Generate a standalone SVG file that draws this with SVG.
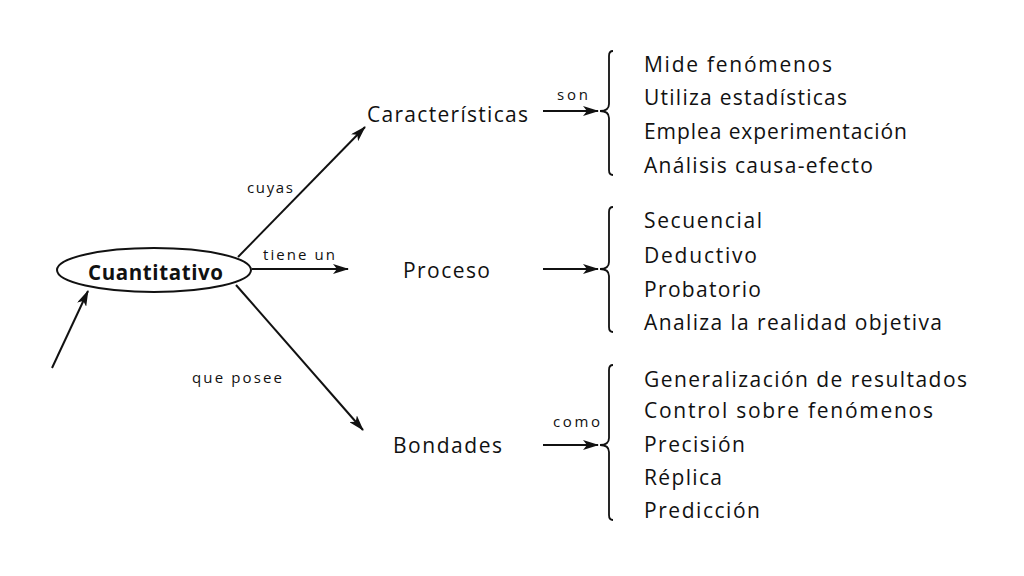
<svg xmlns="http://www.w3.org/2000/svg" width="1024" height="576" viewBox="0 0 1024 576">
<style>
text{font-family:"Open Sans","Liberation Sans",sans-serif;fill:#111;font-weight:500}
.n{font-size:21px}
.i{font-size:21px}
.l{font-size:15px}
.c{font-size:20.5px;font-weight:700}
.ln{stroke:#111;stroke-width:2;fill:none}
.br{stroke:#111;stroke-width:1.8;fill:none}
</style>
<defs>
<marker id="ah" markerWidth="16" markerHeight="10" refX="15" refY="5" orient="auto" markerUnits="userSpaceOnUse">
<path d="M0,0 L16,5 L0,10 L4,5 Z" fill="#111"/>
</marker>
</defs>
<rect width="1024" height="576" fill="#fff"/>
<g id="connectors">
<line class="ln" x1="52" y1="368" x2="88" y2="291" marker-end="url(#ah)"/>
<line class="ln" x1="238" y1="257" x2="365" y2="127" marker-end="url(#ah)"/>
<line class="ln" x1="252" y1="269" x2="348" y2="269" marker-end="url(#ah)"/>
<line class="ln" x1="236" y1="285" x2="363" y2="430" marker-end="url(#ah)"/>
<line class="ln" x1="543" y1="111" x2="598" y2="111" marker-end="url(#ah)"/>
<line class="ln" x1="543" y1="269" x2="598" y2="269" marker-end="url(#ah)"/>
<line class="ln" x1="543" y1="445" x2="598" y2="445" marker-end="url(#ah)"/>
<text class="l" x="247" y="193" textLength="46">cuyas</text>
<text class="l" x="263" y="260" textLength="72">tiene un</text>
<text class="l" x="192" y="383" textLength="90">que posee</text>
<text class="l" x="557" y="100" textLength="31">son</text>
<text class="l" x="553" y="427" textLength="47">como</text>
</g>
<g id="cuantitativo">
<ellipse cx="154" cy="270" rx="97" ry="22" fill="#fff" stroke="#111" stroke-width="2"/>
<text class="c" x="88" y="280" textLength="135">Cuantitativo</text>
</g>
<g id="caracteristicas">
<text class="n" x="367" y="122" textLength="161">Características</text>
</g>
<g id="proceso">
<text class="n" x="403" y="278" textLength="87">Proceso</text>
</g>
<g id="bondades">
<text class="n" x="393" y="453" textLength="109">Bondades</text>
</g>
<g id="lista-caracteristicas">
<path class="br" d="M613,51 Q609,51 609,56 L609,104 Q609,111 600,111 Q609,111 609,118 L609,170 Q609,175 613,175"/>
<text class="i" x="644" y="72" textLength="188">Mide fenómenos</text>
<text class="i" x="644" y="105" textLength="203">Utiliza estadísticas</text>
<text class="i" x="644" y="139" textLength="263">Emplea experimentación</text>
<text class="i" x="644" y="173" textLength="229">Análisis causa-efecto</text>
</g>
<g id="lista-proceso">
<path class="br" d="M613,207 Q609,207 609,212 L609,262 Q609,269 600,269 Q609,269 609,276 L609,327 Q609,332 613,332"/>
<text class="i" x="644" y="228" textLength="118">Secuencial</text>
<text class="i" x="644" y="263" textLength="113">Deductivo</text>
<text class="i" x="644" y="297" textLength="117">Probatorio</text>
<text class="i" x="644" y="330" textLength="298">Analiza la realidad objetiva</text>
</g>
<g id="lista-bondades">
<path class="br" d="M613,365 Q609,365 609,370 L609,438 Q609,445 600,445 Q609,445 609,452 L609,515 Q609,520 613,520"/>
<text class="i" x="644" y="387" textLength="323">Generalización de resultados</text>
<text class="i" x="644" y="418" textLength="289">Control sobre fenómenos</text>
<text class="i" x="644" y="452" textLength="101">Precisión</text>
<text class="i" x="644" y="485" textLength="78">Réplica</text>
<text class="i" x="644" y="518" textLength="116">Predicción</text>
</g>
</svg>
